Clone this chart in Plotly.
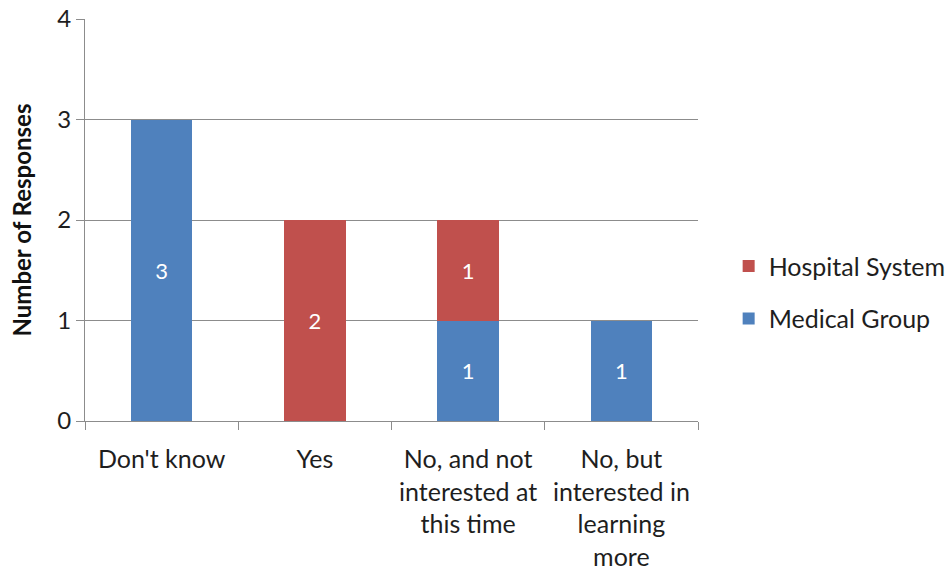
import plotly.graph_objects as go

categories = [
    "Don't know",
    "Yes",
    "No, and not<br>interested at<br>this time",
    "No, but<br>interested in<br>learning<br>more",
]
medical_group = [3, 0, 1, 1]
hospital_system = [0, 2, 1, 0]

BLUE = "#4F81BD"
RED = "#C0504D"
GRID = "#8C8C8C"
FONT = "Lato, Open Sans, sans-serif"
TXT = "#1e1e1e"


def labels(vals):
    return [str(v) if v else "" for v in vals]


fig = go.Figure()
fig.add_trace(go.Bar(
    name="Medical Group", x=categories, y=medical_group,
    marker=dict(color=BLUE, line=dict(width=0)),
    text=labels(medical_group), textposition="inside",
    insidetextanchor="middle", textangle=0,
    textfont=dict(color="white", size=22, family=FONT),
    legendgroup="mg", legendrank=2,
))
fig.add_trace(go.Bar(
    name="Hospital System", x=categories, y=hospital_system,
    marker=dict(color=RED, line=dict(width=0)),
    text=labels(hospital_system), textposition="inside",
    insidetextanchor="middle", textangle=0,
    textfont=dict(color="white", size=22, family=FONT),
    legendgroup="hs", legendrank=1,
))

fig.update_layout(
    barmode="stack",
    bargap=0.6,
    width=952, height=567,
    margin=dict(l=85, r=254, t=19, b=146, autoexpand=False),
    paper_bgcolor="white", plot_bgcolor="white",
    font=dict(family=FONT, size=25, color=TXT),
    uniformtext=dict(mode="show", minsize=22),
    legend=dict(
        x=1.05, y=0.32, xanchor="left", yanchor="middle",
        traceorder="grouped", tracegroupgap=17,
        font=dict(size=25, family=FONT, color=TXT),
        itemwidth=30,
    ),
    xaxis=dict(
        automargin=False,
        showline=True, linecolor=GRID, linewidth=1,
        ticks="outside", ticklen=8, tickcolor=GRID,
        tickson="boundaries", showgrid=False,
        ticklabelstandoff=16,
        tickfont=dict(size=25, family=FONT, color=TXT),
    ),
    yaxis=dict(
        automargin=False,
        range=[0, 4], dtick=1, tick0=0,
        showline=True, linecolor=GRID, linewidth=1,
        ticks="outside", ticklen=8, tickcolor=GRID,
        showgrid=True, gridcolor=GRID, gridwidth=1,
        zeroline=False,
        tickfont=dict(size=24, family=FONT, color=TXT),
        title=dict(text="<b>Number of Responses</b>", standoff=18,
                   font=dict(size=24, family=FONT, color="#111111")),
    ),
)

fig.write_html("out.html")
